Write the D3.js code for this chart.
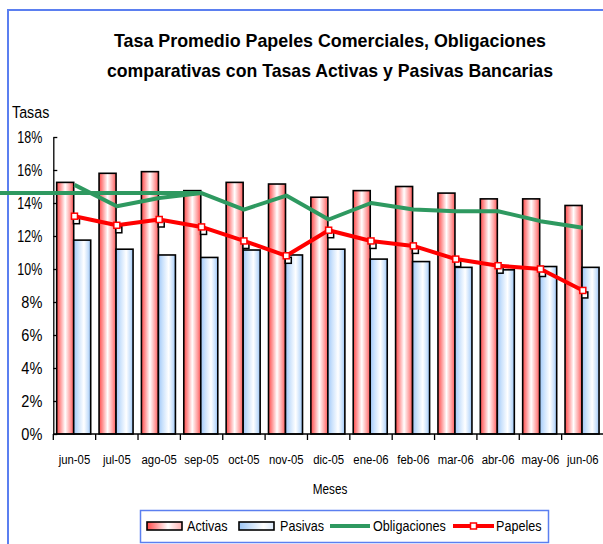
<!DOCTYPE html>
<html>
<head>
<meta charset="utf-8">
<script src="https://cdn.jsdelivr.net/npm/d3@7"></script>
<style>
  body { margin: 0; background: #fff; }
  text { font-family: "Liberation Sans Narrow", "Arial Narrow", "Liberation Sans", sans-serif; fill: #000; }
</style>
</head>
<body>
<svg id="chart" width="603" height="544"></svg>
<script>
// months on the x axis
const meses = ['jun-05', 'jul-05', 'ago-05', 'sep-05', 'oct-05', 'nov-05', 'dic-05',
  'ene-06', 'feb-06', 'mar-06', 'abr-06', 'may-06', 'jun-06'];

// rates in %
const activas = [15.25, 15.8, 15.9, 14.75, 15.25, 15.15, 14.35, 14.75, 15.0, 14.6, 14.25, 14.25, 13.85];
const pasivas = [11.75, 11.2, 10.85, 10.7, 11.15, 10.85, 11.2, 10.6, 10.45, 10.1, 9.95, 10.15, 10.1];
const obligaciones = [15.1, 13.8, 14.3, 14.6, 13.6, 14.45, 13.0, 14.0, 13.6, 13.5, 13.5, 12.9, 12.5];
const papeles = [13.2, 12.65, 13.0, 12.55, 11.7, 10.8, 12.35, 11.7, 11.4, 10.6, 10.2, 10.0, 8.7];

const yTicks = [0, 2, 4, 6, 8, 10, 12, 14, 16, 18];
const titulo = ['Tasa Promedio Papeles Comerciales, Obligaciones',
  'comparativas con Tasas Activas y Pasivas Bancarias'];

const svg = d3.select('#chart');
const frameBlue = '#5b7ff0';
const green = '#2e9960';
const red = '#ff0000';
const NARROW = 0.84; // no narrow font installed, squeeze text instead

// text squeezed horizontally around its anchor point
function narrowText(sel, px, py, size, str, anchor) {
  return sel.append('text')
    .attr('transform', `translate(${px},${py}) scale(${NARROW},1)`)
    .attr('text-anchor', anchor || 'start')
    .attr('font-size', size).text(str);
}

// gradients for bars
const defs = svg.append('defs');
function grad(id, stops) {
  const g = defs.append('linearGradient').attr('id', id)
    .attr('x1', '0%').attr('x2', '100%').attr('y1', '0%').attr('y2', '0%');
  stops.forEach(s => g.append('stop').attr('offset', s[0]).attr('stop-color', s[1]));
}
grad('gRed', [[0, '#ff4c4c'], [0.2, '#ff9090'], [0.5, '#ffffff'], [0.8, '#ffa0a0'], [1, '#ff5858']]);
grad('gBlue', [[0, '#a0c8f8'], [0.25, '#cbe2fc'], [0.6, '#ffffff'], [0.85, '#c8e0fb'], [1, '#98c2f5']]);
grad('gRedLeg', [[0, '#ff4a4a'], [0.6, '#ffffff'], [1, '#ffb0b0']]);
grad('gBlueLeg', [[0, '#9cc6f6'], [0.7, '#ffffff'], [1, '#dbeafc']]);

// outer frame (left + top edges visible)
svg.append('path')
  .attr('d', 'M8,544 V10 H603')
  .attr('fill', 'none').attr('stroke', frameBlue).attr('stroke-width', 2);

// title
svg.selectAll('text.title').data(titulo).enter().append('text')
  .attr('class', 'title')
  .attr('x', 330).attr('y', (d, i) => 47 + i * 30)
  .attr('text-anchor', 'middle')
  .attr('font-size', 19).attr('font-weight', 'bold')
  .attr('textLength', (d, i) => i === 0 ? 432 : 446)
  .attr('lengthAdjust', 'spacingAndGlyphs')
  .text(d => d);

const x = d3.scaleBand().domain(meses).range([53.3, 604]);
const xs = d3.scaleBand().domain(['a', 'p']).range([3.4, 37.4]);
const y = d3.scaleLinear().domain([0, 18]).range([434, 137]);
const cx = m => x(m) + x.bandwidth() / 2;

// y label
narrowText(svg, 12, 118, 17, 'Tasas');

// y axis
const yAxis = svg.append('g').attr('transform', 'translate(53.3,0)')
  .call(d3.axisLeft(y).tickValues(yTicks).tickFormat(d => d + '%').tickSize(5).tickSizeOuter(0));
yAxis.select('.domain').attr('stroke', '#000').attr('stroke-width', 1.3);
yAxis.selectAll('.tick line').attr('stroke', '#000').attr('stroke-width', 1.3).attr('x2', 4);
yAxis.selectAll('.tick text').attr('font-size', 16).attr('x', -11)
  .attr('font-family', '"Liberation Sans Narrow", "Arial Narrow", "Liberation Sans", sans-serif')
  .attr('fill', '#000').attr('textLength', 25).attr('lengthAdjust', 'spacingAndGlyphs');
yAxis.selectAll('.tick').filter(d => d < 10).select('text').attr('textLength', 21);

// bars
const bars = svg.append('g');
bars.selectAll('rect.act').data(meses).enter().append('rect')
  .attr('x', m => x(m) + xs('a')).attr('width', xs.bandwidth())
  .attr('y', (m, i) => y(activas[i])).attr('height', (m, i) => y(0) - y(activas[i]))
  .attr('fill', 'url(#gRed)').attr('stroke', '#000').attr('stroke-width', 1.6);
bars.selectAll('rect.pas').data(meses).enter().append('rect')
  .attr('x', m => x(m) + xs('p')).attr('width', xs.bandwidth())
  .attr('y', (m, i) => y(pasivas[i])).attr('height', (m, i) => y(0) - y(pasivas[i]))
  .attr('fill', 'url(#gBlue)').attr('stroke', '#000').attr('stroke-width', 1.6);

// x axis
const xAxis = svg.append('g').attr('transform', 'translate(0,434)');
xAxis.append('line').attr('x1', 53.3).attr('x2', 604).attr('stroke', '#000').attr('stroke-width', 1.3);
xAxis.selectAll('line.tk').data(meses).enter().append('line')
  .attr('x1', m => x(m)).attr('x2', m => x(m)).attr('y1', 0).attr('y2', 6)
  .attr('stroke', '#000').attr('stroke-width', 1.3);
meses.forEach(m => narrowText(xAxis, cx(m), 30, 13.5, m, 'middle'));

narrowText(svg, 330, 494, 14, 'Meses', 'middle');

// obligaciones line + stray horizontal segment
const line = d3.line().x(d => cx(d.m)).y(d => y(d.v));
svg.append('line')
  .attr('x1', 0).attr('x2', cx(meses[3]))
  .attr('y1', y(obligaciones[3])).attr('y2', y(obligaciones[3]))
  .attr('stroke', green).attr('stroke-width', 4);
svg.append('path')
  .datum(meses.map((m, i) => ({ m, v: obligaciones[i] })))
  .attr('d', line).attr('fill', 'none').attr('stroke', green).attr('stroke-width', 4)
  .attr('stroke-linejoin', 'round');

// papeles line with square markers and their shadow
const pap = meses.map((m, i) => ({ m, v: papeles[i] }));
svg.selectAll('rect.shadow').data(pap).enter().append('rect')
  .attr('x', d => cx(d.m) - 1).attr('y', d => y(d.v) + 1.5)
  .attr('width', 6).attr('height', 6)
  .attr('fill', '#fff').attr('stroke', '#000').attr('stroke-width', 1.5);
svg.append('path').datum(pap)
  .attr('d', line).attr('fill', 'none').attr('stroke', red).attr('stroke-width', 4)
  .attr('stroke-linejoin', 'round');
svg.selectAll('rect.mk').data(pap).enter().append('rect')
  .attr('x', d => cx(d.m) - 3).attr('y', d => y(d.v) - 3)
  .attr('width', 6).attr('height', 6)
  .attr('fill', '#fff').attr('stroke', red).attr('stroke-width', 1.5);

// legend
const leg = svg.append('g');
leg.append('rect').attr('x', 140.5).attr('y', 510.5).attr('width', 408).attr('height', 32)
  .attr('fill', '#fff').attr('stroke', frameBlue).attr('stroke-width', 1.5);
leg.append('rect').attr('x', 147).attr('y', 522).attr('width', 35).attr('height', 8)
  .attr('fill', 'url(#gRedLeg)').attr('stroke', '#000').attr('stroke-width', 1.6);
narrowText(leg, 187, 531, 15, 'Activas');
leg.append('rect').attr('x', 239).attr('y', 522).attr('width', 35).attr('height', 8)
  .attr('fill', 'url(#gBlueLeg)').attr('stroke', '#000').attr('stroke-width', 1.6);
narrowText(leg, 280, 531, 15, 'Pasivas');
leg.append('line').attr('x1', 330).attr('x2', 370).attr('y1', 526).attr('y2', 526)
  .attr('stroke', green).attr('stroke-width', 4);
narrowText(leg, 373, 531, 15, 'Obligaciones');
leg.append('line').attr('x1', 453).attr('x2', 494).attr('y1', 526).attr('y2', 526)
  .attr('stroke', red).attr('stroke-width', 4);
leg.append('rect').attr('x', 470.5).attr('y', 523).attr('width', 6).attr('height', 6)
  .attr('fill', '#fff').attr('stroke', red).attr('stroke-width', 1.5);
narrowText(leg, 496, 531, 15, 'Papeles');
</script>
</body>
</html>
